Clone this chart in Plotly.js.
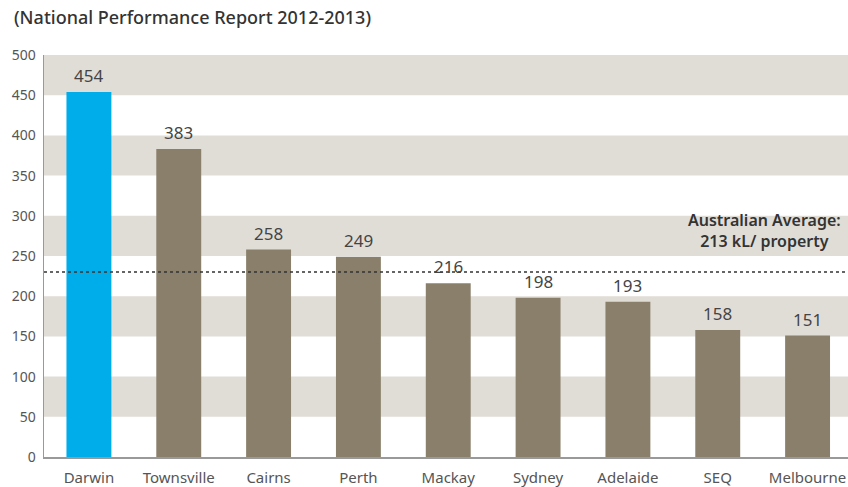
<!DOCTYPE html>
<html><head><meta charset="utf-8">
<script src="https://cdn.plot.ly/plotly-3.0.1.min.js"></script>
<style>html,body{margin:0;padding:0;background:#fff}#chart{width:848px;height:487px}</style>
</head><body><div id="chart"></div>
<script>
const cities = ["Darwin","Townsville","Cairns","Perth","Mackay","Sydney","Adelaide","SEQ","Melbourne"];
const usage = [454,383,258,249,216,198,193,158,151];
const barColors = ["#00adeb","#8a7f6b","#8a7f6b","#8a7f6b","#8a7f6b","#8a7f6b","#8a7f6b","#8a7f6b","#8a7f6b"];
const avgLineValue = 230;
const avgLabel = "Australian Average:<br>213 kL/ property";
const bandStarts = [50,150,250,350,450];
const yTicks = [0,50,100,150,200,250,300,350,400,450,500];

const FONT = "Noto Sans, Open Sans, sans-serif";
const shapes = bandStarts.map(b => ({type:"rect", xref:"paper", yref:"y", x0:0, x1:1, y0:b, y1:b+50, fillcolor:"#e0ddd7", line:{width:0}, layer:"below"}));
shapes.push({type:"line", xref:"paper", yref:"y", x0:0, x1:1, y0:avgLineValue, y1:avgLineValue, line:{color:"#333", width:1.5, dash:"dot"}});

const annotations = cities.map((c,i)=>({x:c, y:usage[i], xref:"x", yref:"y", text:String(usage[i]), showarrow:false, yanchor:"bottom", yshift:3, font:{family:FONT, size:17, color:"#444"}}));
annotations.push({xref:"paper", yref:"paper", x:-0.04, y:1.095, xanchor:"left", yanchor:"middle", text:"(National Performance Report 2012-2013)", showarrow:false, font:{family:FONT, size:18, color:"#333", weight:500}});
annotations.push({xref:"paper", yref:"y", x:0.896, y:avgLineValue, xanchor:"center", yanchor:"bottom", yshift:18, align:"center", text:avgLabel, showarrow:false, font:{family:FONT, size:16, color:"#333", weight:600}});

Plotly.newPlot("chart", [{
  type:"bar", x:cities, y:usage, width:0.5, marker:{color:barColors}, hoverinfo:"x+y"
}], {
  width:848, height:487,
  margin:{l:44, r:0, t:55, b:30},
  paper_bgcolor:"#fff", plot_bgcolor:"#fff",
  showlegend:false,
  xaxis:{range:[-0.5,8.45], showgrid:false, zeroline:false, showline:true, linecolor:"#999", linewidth:1.5, ticks:"", ticklabelstandoff:6, tickfont:{family:FONT, size:15, color:"#555"}, fixedrange:true},
  yaxis:{range:[0,500], tickvals:yTicks, showgrid:false, zeroline:false, showline:true, linecolor:"#999", linewidth:1.5, ticks:"", ticklabelstandoff:4, tickfont:{family:FONT, size:14, color:"#555"}, fixedrange:true},
  shapes:shapes, annotations:annotations
}, {displayModeBar:false, staticPlot:true});
</script></body></html>
